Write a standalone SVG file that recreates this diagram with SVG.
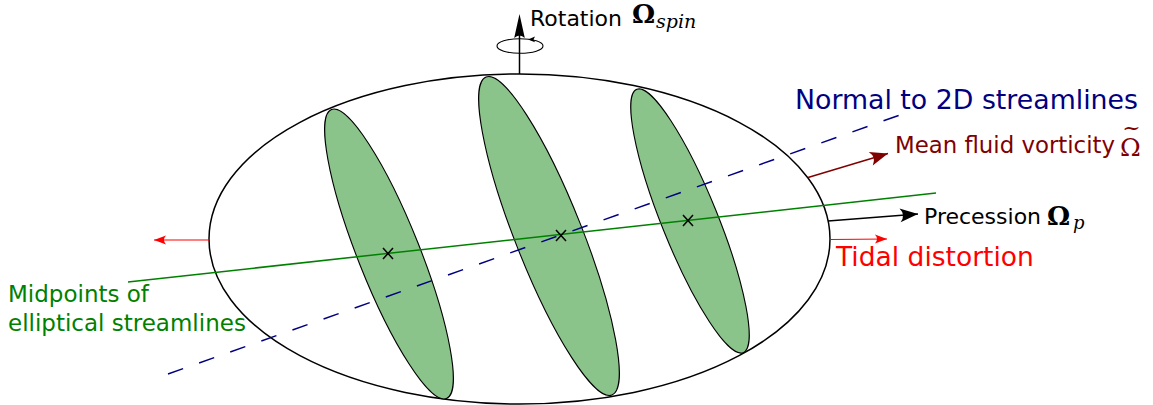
<svg xmlns="http://www.w3.org/2000/svg" width="1153" height="405" viewBox="0 0 1153 405">
<style>
.lbl{font-family:"DejaVu Sans","Verdana",sans-serif}
.math{font-family:"DejaVu Serif","Liberation Serif",serif}
.slice{fill:#8bc48b;stroke:#000;stroke-width:1.1}
.cross{stroke:#000;stroke-width:1.5;fill:none}
</style>
<defs>
<marker id="ahBlack" viewBox="-20 -9 22 18" refX="0" refY="0" markerWidth="22" markerHeight="18" markerUnits="userSpaceOnUse" orient="auto"><path d="M0,0 L-18,-7 Q-12,0 -18,7 Z" fill="#000"/></marker>
<marker id="ahDark" viewBox="-20 -9 22 18" refX="0" refY="0" markerWidth="22" markerHeight="18" markerUnits="userSpaceOnUse" orient="auto"><path d="M0,0 L-18,-7 Q-12,0 -18,7 Z" fill="#800000"/></marker>
<marker id="ahRed" viewBox="-14 -6 16 12" refX="0" refY="0" markerWidth="16" markerHeight="12" markerUnits="userSpaceOnUse" orient="auto"><path d="M0,0 L-12,-4.5 Q-8,0 -12,4.5 Z" fill="#ff0000"/></marker>
</defs>
<g id="body">
<ellipse cx="519.5" cy="239" rx="310.5" ry="165" fill="none" stroke="#000" stroke-width="1.5"/>
</g>
<g id="slice1"><ellipse class="slice" cx="389" cy="254" rx="155.5" ry="31" transform="rotate(68.3 389 254)"/></g>
<g id="slice2"><ellipse class="slice" cx="549" cy="236" rx="171" ry="33.6" transform="rotate(68.4 549 236)"/></g>
<g id="slice3"><ellipse class="slice" cx="690" cy="221" rx="142" ry="28" transform="rotate(68 690 221)"/></g>
<g id="connectors">
<line x1="128" y1="282" x2="936" y2="193" stroke="#008000" stroke-width="1.5"/>
<line x1="168" y1="374" x2="900" y2="115" stroke="#000080" stroke-width="1.5" stroke-dasharray="16 17"/>
<line x1="808" y1="177.5" x2="888" y2="153.5" stroke="#800000" stroke-width="1.5" marker-end="url(#ahDark)"/>
<line x1="828" y1="221" x2="918" y2="214" stroke="#000" stroke-width="1.5" marker-end="url(#ahBlack)"/>
<line x1="830" y1="239.5" x2="887" y2="239" stroke="#ff0000" stroke-width="1.1" marker-end="url(#ahRed)"/>
<line x1="209" y1="240" x2="154" y2="240" stroke="#ff0000" stroke-width="1.1" marker-end="url(#ahRed)"/>
<line x1="519.5" y1="74" x2="519.5" y2="30" stroke="#000" stroke-width="1.5"/>
<path d="M519.5,14 L524.8,38 Q519.5,33 514.2,38 Z" fill="#000"/>
<ellipse cx="520" cy="46" rx="23" ry="7.3" fill="none" stroke="#000" stroke-width="1.1"/>
<path d="M528,39.4 L535,36.6 L533.5,39.4 L535,42.2 Z" fill="#000"/>
</g>
<g id="midpoints">
<path class="cross" d="M383,248 L393,259 M393,248 L383,259"/>
<path class="cross" d="M556,230 L566,241 M566,230 L556,241"/>
<path class="cross" d="M683,215 L693,226 M693,215 L683,226"/>
</g>
<g id="label-rotation">
<text class="lbl" x="530" y="25.5" font-size="22" fill="#000">Rotation</text>
<text class="math" x="632" y="23" font-size="26" font-weight="bold" fill="#000">Ω</text>
<text class="math" x="656" y="28" font-size="19" font-style="italic" fill="#000">spin</text>
</g>
<g id="label-normal"><text class="lbl" x="795" y="109" font-size="26.7" fill="#000080" textLength="343" lengthAdjust="spacingAndGlyphs">Normal to 2D streamlines</text></g>
<g id="label-vorticity">
<text class="lbl" x="895" y="153" font-size="23" fill="#800000" textLength="220" lengthAdjust="spacingAndGlyphs">Mean fluid vorticity</text>
<text class="math" x="1120" y="156" font-size="25" fill="#800000">Ω<tspan x="1131.5" y="135" font-size="22" text-anchor="middle">~</tspan></text>
</g>
<g id="label-precession">
<text class="lbl" x="924" y="223.5" font-size="22" fill="#000">Precession</text>
<text class="math" x="1047" y="224.5" font-size="26" font-weight="bold" fill="#000">Ω</text>
<text class="math" x="1073" y="229" font-size="18" font-style="italic" fill="#000">p</text>
</g>
<g id="label-tidal"><text class="lbl" x="836" y="266" font-size="26.5" fill="#ff0000">Tidal distortion</text></g>
<g id="label-midpoints">
<text class="lbl" x="8" y="302" font-size="23" fill="#008000">Midpoints of</text>
<text class="lbl" x="8" y="331" font-size="23" fill="#008000">elliptical streamlines</text>
</g>
</svg>
